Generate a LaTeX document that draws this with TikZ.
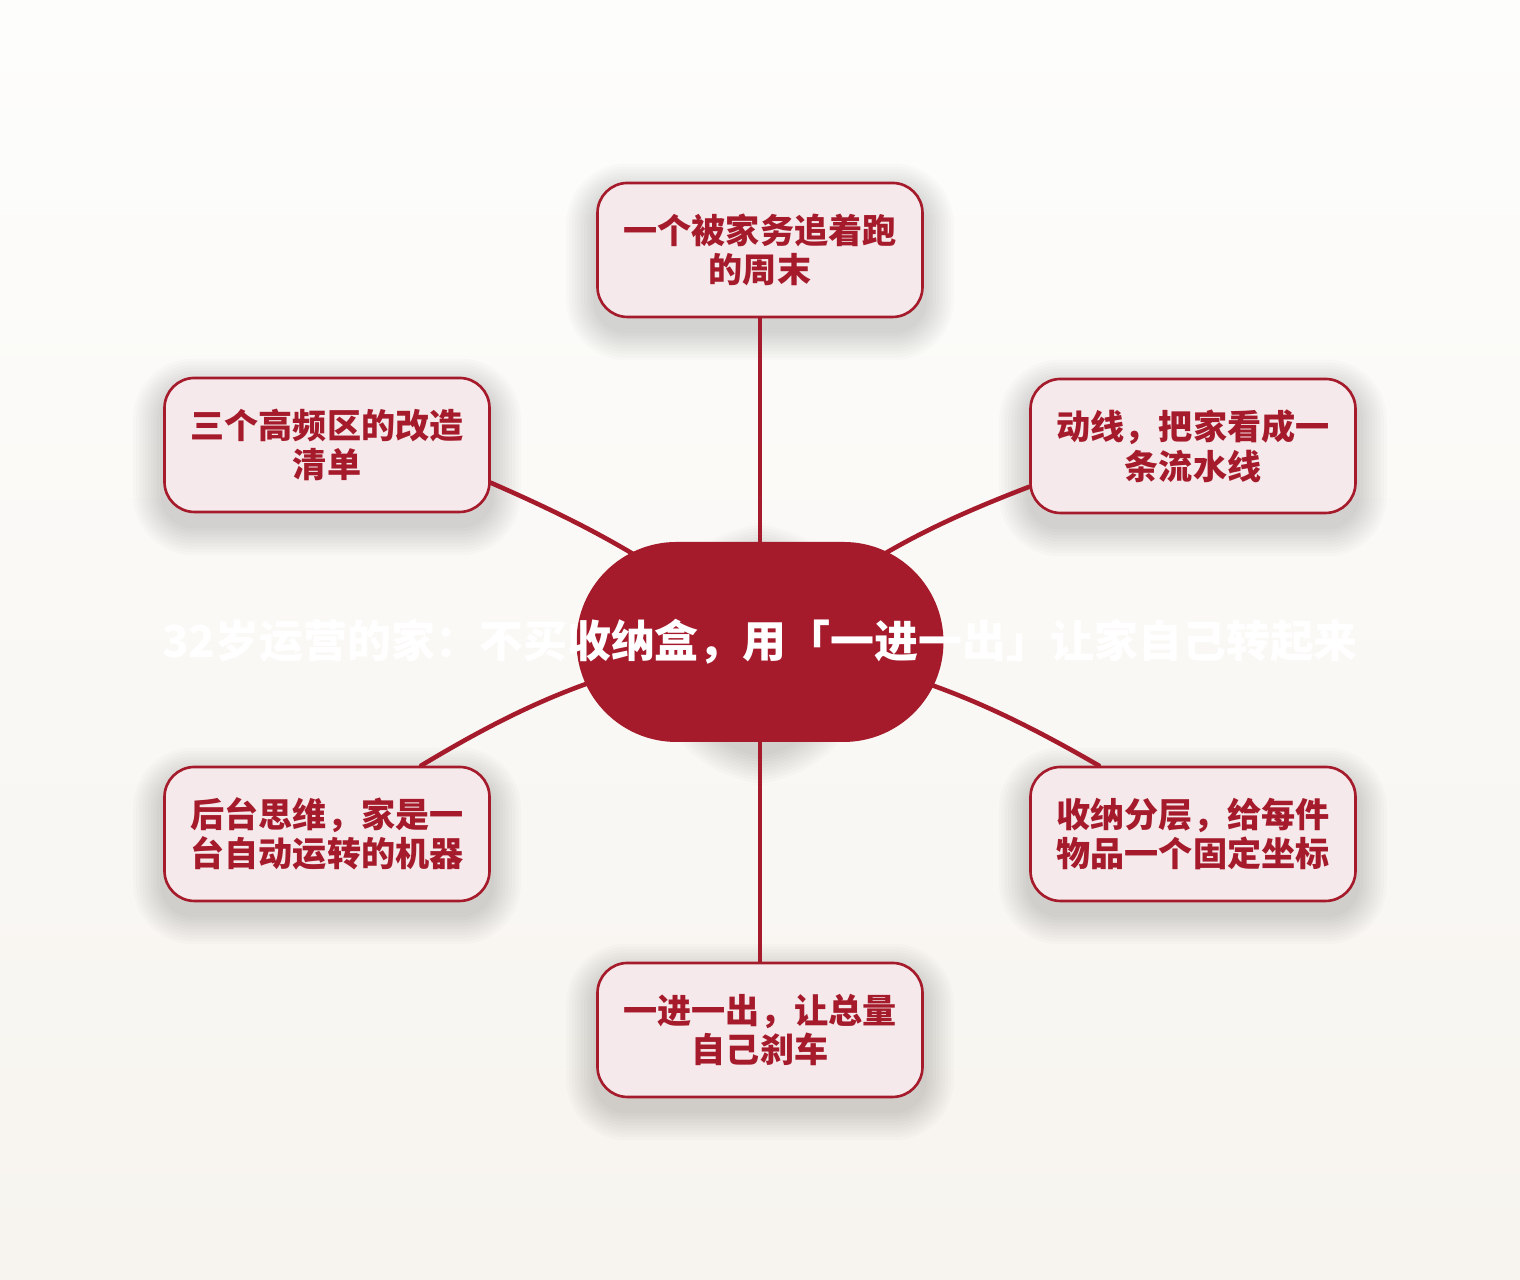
\documentclass[tikz,border=0pt]{standalone}
\usepackage{fontspec}
\usepackage{tikz}
\usetikzlibrary{shapes.misc}
\newfontfamily\cjk{Noto Sans CJK SC}
\definecolor{wine}{HTML}{A51B2B}
\definecolor{blush}{HTML}{F5E9EB}
\definecolor{paperTop}{HTML}{FDFDFC}
\definecolor{paperBot}{HTML}{F7F4EF}
\pgfdeclarelayer{back}
\pgfdeclarelayer{links}
\pgfsetlayers{back,links,main}

\begin{document}
\begin{tikzpicture}[
  topic/.style={draw=wine, line width=0.75pt, fill=blush, rounded corners=0.3cm,
    minimum width=3.25cm, minimum height=1.34cm, align=center, text=wine,
    font=\cjk\bfseries\fontsize{9.7pt}{11.3pt}\selectfont},
  hub/.style={rounded rectangle, fill=wine, minimum width=3.67cm, minimum height=2cm,
    inner sep=0pt, text=white, font=\cjk\bfseries\fontsize{12.5pt}{14pt}\selectfont},
  link/.style={draw=wine, line width=1.3pt, line cap=round},
  haze/.style={black, opacity=0.016}
]
\useasboundingbox (0,0) rectangle (15.2,12.8);

\node[hub] (hub) at (7.60,6.38) {\makebox[0pt]{32岁运营的家：不买收纳盒，用「一进一出」让家自己转起来}};

\node[topic] (tp) at (7.60,10.30) {一个被家务追着跑\\的周末};
\node[topic] (ul) at (3.27,8.35) {三个高频区的改造\\清单};
\node[topic] (ur) at (11.93,8.34) {动线，把家看成一\\条流水线};
\node[topic] (ll) at (3.27,4.46) {后台思维，家是一\\台自动运转的机器};
\node[topic] (lr) at (11.93,4.46) {收纳分层，给每件\\物品一个固定坐标};
\node[topic] (bt) at (7.60,2.50) {一进一出，让总量\\自己刹车};

\begin{pgfonlayer}{back}
\shade[top color=paperTop, bottom color=paperBot] (0,0) rectangle (15.2,12.8);
\foreach \n/\r in {hub/1.0,tp/0.3,ul/0.3,ur/0.3,ll/0.3,lr/0.3,bt/0.3}
  \foreach \g in {1,...,10}
    \fill[haze, rounded corners={(\r+0.03*\g)*1cm}]
      ([shift={(-0.03*\g,-0.12-0.03*\g)}]\n.south west) rectangle ([shift={(0.03*\g,-0.12+0.03*\g)}]\n.north east);
\end{pgfonlayer}

\begin{pgfonlayer}{links}
\draw[link] (tp.south) -- (hub.center);
\draw[link] (ul.-13) to[bend left=7] (hub.center);
\draw[link] (ur.194) to[bend right=9] (hub.center);
\draw[link] (ll.36) to[bend left=11] (hub.center);
\draw[link] (lr.144) to[bend right=10] (hub.center);
\draw[link] (hub.center) -- (bt.north);
\end{pgfonlayer}
\end{tikzpicture}
\end{document}
